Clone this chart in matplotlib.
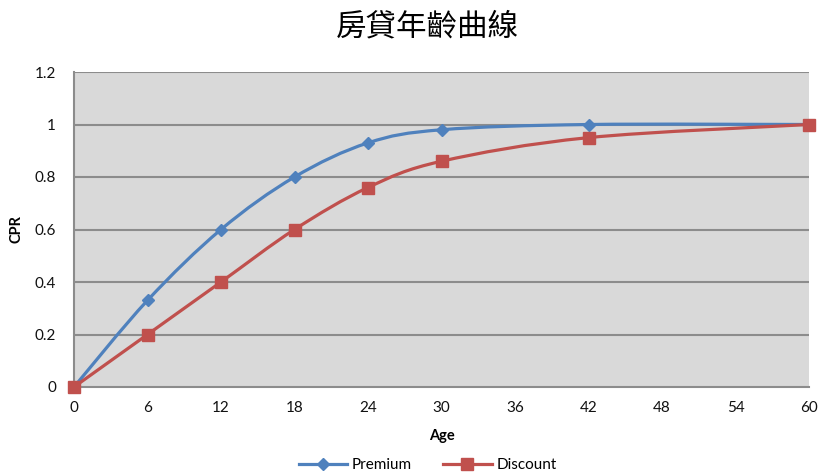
import matplotlib.pyplot as plt
from matplotlib.path import Path
from matplotlib.patches import PathPatch
from matplotlib.lines import Line2D

plt.rcParams['font.family'] = ['Lato', 'DejaVu Sans']

ages = [0, 6, 12, 18, 24, 30, 42, 60]
premium = [0, 0.33, 0.60, 0.80, 0.93, 0.98, 1.0, 1.0]
discount = [0, 0.20, 0.40, 0.60, 0.76, 0.86, 0.95, 1.0]
x_ticks = [0, 6, 12, 18, 24, 30, 36, 42, 48, 54, 60]
y_ticks = [0, 0.2, 0.4, 0.6, 0.8, 1.0, 1.2]
y_labels = ['0', '0.2', '0.4', '0.6', '0.8', '1', '1.2']

BLUE = '#4F81BD'
RED = '#C0504D'


def smooth_path(xs, ys):
    # Bezier curve through the points, Catmull-Rom style handles
    pts = list(zip(xs, ys))
    verts = [pts[0]]
    codes = [Path.MOVETO]
    n = len(pts)
    for i in range(n - 1):
        p0 = pts[i - 1] if i > 0 else pts[i]
        p1 = pts[i]
        p2 = pts[i + 1]
        p3 = pts[i + 2] if i + 2 < n else pts[i + 1]
        c1 = (p1[0] + (p2[0] - p0[0]) / 6, p1[1] + (p2[1] - p0[1]) / 6)
        c2 = (p2[0] - (p3[0] - p1[0]) / 6, p2[1] - (p3[1] - p1[1]) / 6)
        verts += [c1, c2, p2]
        codes += [Path.CURVE4] * 3
    return Path(verts, codes)


fig = plt.figure(figsize=(8.22, 4.75), dpi=100)
ax = fig.add_axes([74 / 822, 1 - 387 / 475, (809 - 74) / 822, (387 - 72) / 475])
ax.set_facecolor('#D9D9D9')

for y in y_ticks[1:]:
    ax.axhline(y, color='#8C8C8C', lw=1.5, zorder=1)

for xs, ys, color, marker, ms, name in [
        (ages, premium, BLUE, 'D', 6, 'Premium'),
        (ages, discount, RED, 's', 9, 'Discount')]:
    ax.add_patch(PathPatch(smooth_path(xs, ys), fill=False, edgecolor=color,
                           lw=2.3, zorder=3, capstyle='round'))
    ax.plot(xs, ys, ls='none', marker=marker, ms=ms, color=color, zorder=4,
            clip_on=False)

ax.set_xlim(0, 60)
ax.set_ylim(0, 1.2)
ax.set_xticks(x_ticks)
ax.set_yticks(y_ticks)
ax.set_yticklabels(y_labels)
ax.tick_params(length=0, labelsize=11, colors='#111111', pad=10)
ax.tick_params(axis='y', pad=13)

for side in ['top', 'right']:
    ax.spines[side].set_visible(False)
for side in ['left', 'bottom']:
    ax.spines[side].set_color('#8C8C8C')
    ax.spines[side].set_linewidth(1.5)

ax.set_xlabel('Age', fontsize=10.5, fontweight='bold', labelpad=10)
ax.set_ylabel('CPR', fontsize=10.5, fontweight='bold', labelpad=8)

fig.text(0.52, 1 - 27 / 475, '房貸年齡曲線', ha='center', va='center',
         fontsize=22, family=['Noto Sans CJK TC', 'DejaVu Sans'],
         fontweight='light')

handles = [Line2D([], [], color=BLUE, lw=2.3, marker='D', ms=6),
           Line2D([], [], color=RED, lw=2.3, marker='s', ms=9)]
fig.legend(handles, ['Premium', 'Discount'], loc='center',
           bbox_to_anchor=(0.52, 1 - 465 / 475), ncol=2, frameon=False,
           fontsize=11, handlelength=3.2, columnspacing=2.0,
           handletextpad=0.3)

fig.savefig('out.png', dpi=100)
